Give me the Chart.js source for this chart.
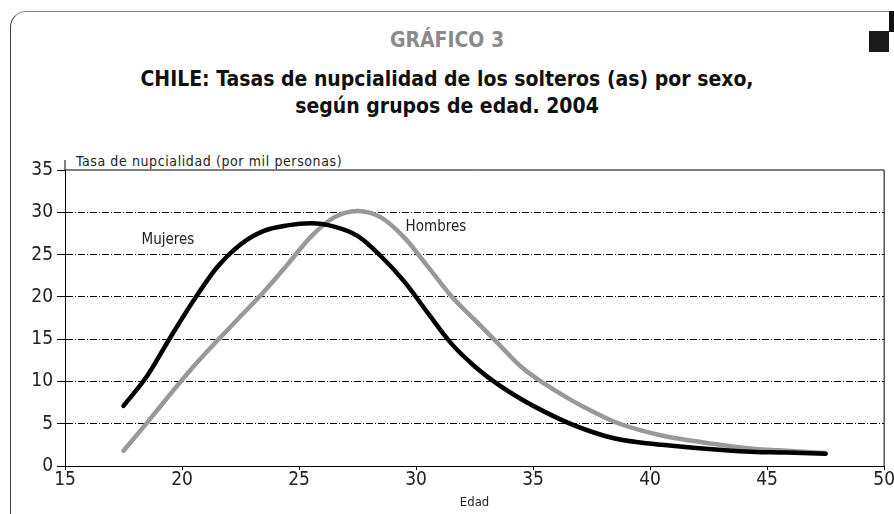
<!DOCTYPE html>
<html>
<head>
<meta charset="utf-8">
<script src="https://cdn.jsdelivr.net/npm/chart.js@4.4.1/dist/chart.umd.min.js"></script>
<style>
  body { margin: 0; width: 894px; height: 514px; overflow: hidden; background: #fff; position: relative; }
  .frame { position: absolute; left: 10px; top: 11px; width: 1000px; height: 600px;
           border: 1px solid #444; border-top-color: #888; border-radius: 16px; }
  .tab1 { position: absolute; left: 889px; top: 11px; width: 5px; height: 21px; background: #111; }
  .tab2 { position: absolute; left: 869px; top: 31px; width: 20px; height: 21px; background: #1a1a1a; }
  .ttl { position: absolute; left: 0; width: 894px; text-align: center;
         font-family: 'Liberation Sans Narrow', 'DejaVu Sans Condensed', sans-serif;
         font-weight: 700; font-size: 21px; line-height: 27px; color: #111; }
  #t1 { top: 27px; color: #8a8a8a; }
  #t2 { top: 66px; }
  .ylab { position: absolute; left: 76px; top: 153px; font-family: 'Liberation Sans Narrow', 'DejaVu Sans Condensed', sans-serif;
          font-size: 14px; letter-spacing: 0.6px; color: #222; }
  #chart { position: absolute; left: 0; top: 0; }
</style>
</head>
<body>
<div class="frame"></div>
<div class="tab1"></div>
<div class="tab2"></div>
<div class="ttl" id="t1">GRÁFICO 3</div>
<div class="ttl" id="t2">CHILE: Tasas de nupcialidad de los solteros (as) por sexo,<br>según grupos de edad. 2004</div>
<div class="ylab">Tasa de nupcialidad (por mil personas)</div>
<canvas id="chart" width="894" height="514"></canvas>
<script>
// edades (años)
const edades = [17.5, 18.5, 19.5, 20.5, 21.5, 22.5, 23.5, 24.5, 25.5, 26.5, 27.5, 28.5, 29.5, 30.5, 31.5,
                32.5, 33.5, 34.5, 35.5, 36.5, 37.5, 38.5, 39.5, 40.5, 41.5, 42.5, 43.5, 44.5, 45.5, 46.5, 47.5];
// tasas por mil
const mujeres = [7.1, 10.6, 15.2, 19.6, 23.5, 26.2, 27.8, 28.45, 28.7, 28.3, 27.2, 24.8, 21.8, 18.1, 14.5,
                 11.8, 9.65, 7.9, 6.4, 5.1, 4.05, 3.25, 2.8, 2.5, 2.25, 2.0, 1.8, 1.65, 1.6, 1.55, 1.45];
const hombres = [1.8, 5.1, 8.5, 11.8, 14.8, 17.7, 20.6, 23.8, 27.1, 29.4, 30.15, 29.4, 27.0, 23.6, 20.1,
                 17.3, 14.5, 11.7, 9.7, 8.0, 6.5, 5.2, 4.3, 3.6, 3.1, 2.7, 2.3, 2.0, 1.85, 1.7, 1.55];
const xTicks = [15, 20, 25, 30, 35, 40, 45, 50];
const yTicks = [0, 5, 10, 15, 20, 25, 30, 35];
const etiquetas = [
  { text: 'Mujeres', x: 19.4, y: 26.7 },
  { text: 'Hombres', x: 30.85, y: 28.3 }
];

const fam = "'Liberation Sans Narrow', 'DejaVu Sans Condensed', sans-serif";
const tickFont = { family: fam, size: 19 };

const framePlugin = {
  id: 'framePlugin',
  afterDraw(chart) {
    const { ctx, chartArea: a, scales } = chart;
    ctx.save();
    ctx.strokeStyle = '#000';
    ctx.lineWidth = 1;
    ctx.beginPath();
    ctx.moveTo(a.left, a.top - 10);
    ctx.lineTo(a.left, a.top);
    ctx.lineTo(a.right, a.top);
    ctx.lineTo(a.right, a.bottom);
    ctx.stroke();
    ctx.font = '15px ' + fam;
    ctx.fillStyle = '#222';
    ctx.textAlign = 'center';
    ctx.textBaseline = 'middle';
    etiquetas.forEach(e => {
      ctx.fillText(e.text, scales.x.getPixelForValue(e.x), scales.y.getPixelForValue(e.y));
    });
    ctx.restore();
  }
};

const ctx = document.getElementById('chart');
new Chart(ctx, {
  type: 'line',
  data: {
    datasets: [{
      label: 'Mujeres',
      data: edades.map((e, i) => ({ x: e, y: mujeres[i] })),
      borderColor: '#000',
      borderWidth: 4.5,
      cubicInterpolationMode: 'monotone',
      pointRadius: 0,
      borderCapStyle: 'round'
    }, {
      label: 'Hombres',
      data: edades.map((e, i) => ({ x: e, y: hombres[i] })),
      borderColor: '#999',
      borderWidth: 4.5,
      cubicInterpolationMode: 'monotone',
      pointRadius: 0,
      borderCapStyle: 'round'
    }]
  },
  options: {
    responsive: false,
    animation: false,
    layout: { padding: { left: 0, top: 170, right: 0, bottom: 0 } },
    plugins: { legend: { display: false }, tooltip: { enabled: false } },
    scales: {
      x: {
        type: 'linear',
        min: 15, max: 50,
        afterBuildTicks(scale) { scale.ticks = xTicks.map(v => ({ value: v })); },
        afterFit(scale) { scale.height = 48; },
        grid: { drawOnChartArea: false, drawTicks: true, tickLength: 4, color: '#000', tickColor: '#000' },
        border: { display: true, color: '#000', width: 1 },
        ticks: { font: tickFont, color: '#222', padding: -1, maxRotation: 0 },
        title: { display: true, text: 'Edad', color: '#222', padding: { top: 0, bottom: 4 },
                 font: { family: fam, size: 13 } }
      },
      y: {
        min: 0, max: 35,
        afterBuildTicks(scale) { scale.ticks = yTicks.map(v => ({ value: v })); },
        afterFit(scale) { scale.width = 65; },
        grid: {
          color: c => (c.tick && (c.tick.value === 0 || c.tick.value === 35)) ? 'rgba(0,0,0,0)' : '#000',
          tickColor: '#000', tickLength: 8, lineWidth: 1
        },
        border: { display: true, color: '#000', width: 1, dash: [7, 2, 1, 2] },
        ticks: { font: tickFont, color: '#222', padding: 4 }
      }
    }
  },
  plugins: [framePlugin]
});
</script>
</body>
</html>
